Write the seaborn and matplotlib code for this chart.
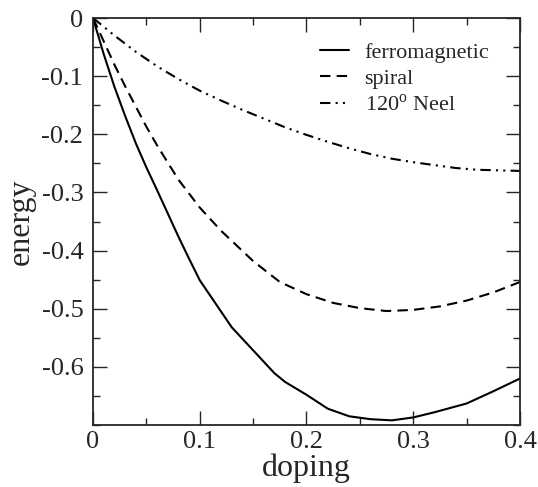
import numpy as np
import pandas as pd
import seaborn as sns
import matplotlib
matplotlib.use("Agg")
import matplotlib.pyplot as plt
from matplotlib.ticker import MultipleLocator, FixedLocator, FuncFormatter

# values
ferro_x = [0, 0.01, 0.02, 0.03, 0.04, 0.05, 0.06, 0.07, 0.08, 0.09, 0.10, 0.13, 0.17,
           0.18, 0.20, 0.22, 0.24, 0.26, 0.28, 0.30, 0.32, 0.35, 0.375, 0.40]
ferro_y = [0, -0.062, -0.118, -0.168, -0.215, -0.257, -0.296, -0.336, -0.376, -0.414,
           -0.451, -0.532, -0.611, -0.626, -0.648, -0.672, -0.685, -0.690, -0.692,
           -0.687, -0.678, -0.663, -0.642, -0.620]

spiral_x = [0, 0.01, 0.02, 0.03, 0.04, 0.05, 0.06, 0.08, 0.10, 0.12, 0.15, 0.175, 0.20,
            0.225, 0.25, 0.275, 0.30, 0.325, 0.35, 0.375, 0.40]
spiral_y = [0, -0.04, -0.08, -0.117, -0.152, -0.187, -0.219, -0.278, -0.326, -0.366,
            -0.418, -0.454, -0.475, -0.490, -0.499, -0.504, -0.502, -0.496, -0.486,
            -0.472, -0.454]

neel_x = [0, 0.02, 0.04, 0.06, 0.08, 0.10, 0.12, 0.14, 0.16, 0.18, 0.20, 0.22, 0.24,
          0.26, 0.28, 0.30, 0.32, 0.34, 0.36, 0.38, 0.40]
neel_y = [0, -0.03, -0.058, -0.083, -0.105, -0.125, -0.142, -0.158, -0.173, -0.188,
          -0.201, -0.213, -0.224, -0.234, -0.242, -0.248, -0.253, -0.258, -0.261,
          -0.262, -0.263]

labels = ["ferromagnetic", "spiral", r"120$^{\rm o}$ Neel"]

sns.set_style("ticks")
plt.rcParams["font.family"] = ["Liberation Serif", "DejaVu Serif"]
plt.rcParams["mathtext.fontset"] = "custom"
plt.rcParams["mathtext.rm"] = "Liberation Serif"
plt.rcParams["axes.unicode_minus"] = False

fig = plt.figure(figsize=(5.38, 4.87), dpi=100)
ax = fig.add_axes([0.1729, 0.1273, 0.7936, 0.8357])

lw = 1.5
sns.lineplot(x=ferro_x, y=ferro_y, ax=ax, color="black", lw=lw, legend=False)
sns.lineplot(x=spiral_x, y=spiral_y, ax=ax, color="black", lw=lw, legend=False,
             linestyle=(0, (5, 3)))
sns.lineplot(x=neel_x, y=neel_y, ax=ax, color="black", lw=lw, legend=False,
             linestyle=(0, (5, 2.5, 1, 2.5, 1, 2.5)))

ax.set_xlim(0, 0.4)
ax.set_ylim(-0.7, 0)

ax.xaxis.set_major_locator(MultipleLocator(0.1))
ax.xaxis.set_minor_locator(MultipleLocator(0.05))
ax.yaxis.set_major_locator(FixedLocator([0, -0.1, -0.2, -0.3, -0.4, -0.5, -0.6]))
ax.yaxis.set_minor_locator(MultipleLocator(0.05))

fmt = FuncFormatter(lambda v, p: "0" if abs(v) < 1e-9 else ("%.1f" % v))
ax.xaxis.set_major_formatter(fmt)
ax.yaxis.set_major_formatter(fmt)

ax.tick_params(which="both", direction="in", top=True, right=True, width=1.0,
               labelsize=19)
ax.tick_params(axis="y", pad=7)
ax.tick_params(axis="x", pad=4)
ax.tick_params(which="major", length=10)
ax.tick_params(which="minor", length=5)
for s in ax.spines.values():
    s.set_linewidth(1.3)

ax.set_xlabel("doping", fontsize=23, labelpad=1)
ax.set_ylabel("energy", fontsize=23, labelpad=4)

ax.legend(ax.get_lines(), labels, loc="upper right", frameon=False, fontsize=16,
          handlelength=1.3, handletextpad=0.7, labelspacing=0.25,
          bbox_to_anchor=(0.975, 0.99))

fig.savefig("out.png", dpi=100)
